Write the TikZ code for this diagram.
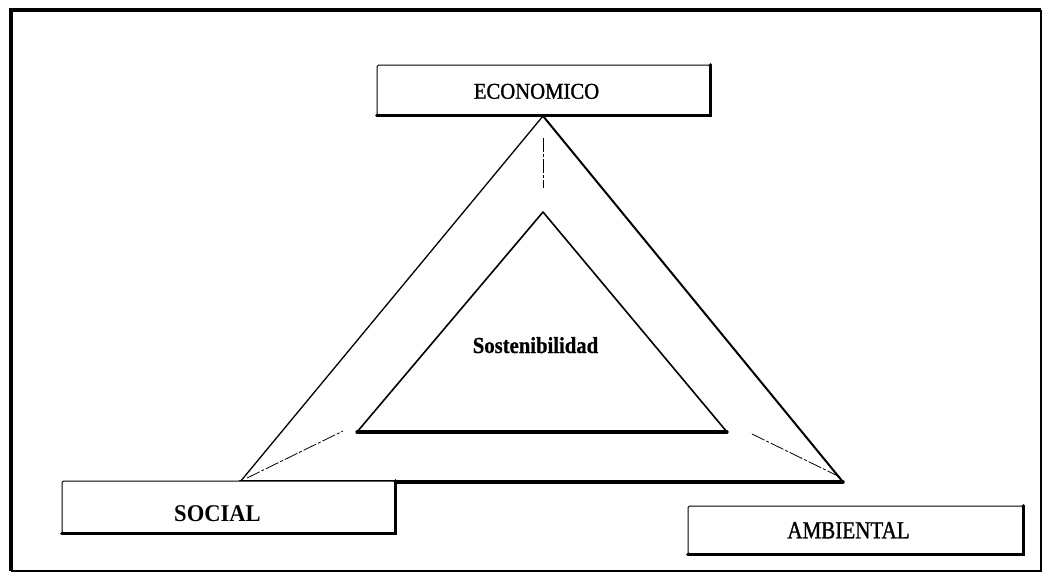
\documentclass[tikz,border=0pt]{standalone}
\usepackage{fontspec}
\setmainfont{Liberation Serif}
\newfontfamily\ecofont[FakeStretch=0.92,FakeBold=1.2]{Liberation Serif}
\newfontfamily\socfont[FakeStretch=0.94]{Liberation Serif Bold}
\newfontfamily\ambfont[FakeStretch=0.86,FakeBold=1.2]{Liberation Serif}
\newfontfamily\sosfont[FakeStretch=0.9,FakeBold=0.6]{Liberation Serif Bold}
\begin{document}
\begin{tikzpicture}[x=1pt,y=-1pt,
  labelbox/.style={draw=black, line width=1pt, fill=white, rounded corners=1.5pt,
    inner sep=0pt},
  boxtext/.style={anchor=base, inner sep=0pt},
  shadowedge/.style={line width=2.6pt, line cap=round},
  link/.style={line width=0.8pt, dash pattern=on 14pt off 2pt on 3pt off 2pt}]
\useasboundingbox (0,0) rectangle (1048,576);
% frame
\draw[line width=4pt] (11,571) -- (11,10) -- (1041,10);
\draw[line width=2.5pt] (1041,10) -- (1041,571) -- (11,571);
% vertices
\coordinate (oA) at (543,116);
\coordinate (oL) at (240,482);
\coordinate (oR) at (843,482);
\coordinate (iA) at (543,212);
\coordinate (iL) at (357,432);
\coordinate (iR) at (727,432);
% outer triangle
\draw[line width=1.3pt] (oA) -- (oL);
\draw[line width=2pt] (oA) -- (oR);
\draw[line width=3.5pt, line cap=round] (oL) -- (oR);
% inner triangle
\draw[line width=1.6pt, line join=round] (iL) -- (iA) -- (iR);
\draw[line width=3.2pt, line cap=round] (iL) -- (iR);
% links
\coordinate (lA) at (543,138);
\coordinate (lA2) at (543,188);
\coordinate (lL) at (247,478);
\coordinate (lL2) at (343,431);
\coordinate (lR) at (840,477);
\coordinate (lR2) at (750,433);
\draw[link] (lA) -- (lA2);
\draw[link] (lL) -- (lL2);
\draw[link] (lR) -- (lR2);
% boxes
\node[labelbox, minimum width=333pt, minimum height=50pt] (eco) at (543.5,90) {};
\draw[shadowedge] (eco.south west) -- (eco.south east) -- (eco.north east);
\node[boxtext, font=\ecofont\fontsize{22.5}{24}\selectfont] (ecoT) at (536.5,98.7) {ECONOMICO};
\node[labelbox, minimum width=333pt, minimum height=52pt] (soc) at (228.5,507) {};
\draw[shadowedge] (soc.south west) -- (soc.south east) -- (soc.north east);
\node[boxtext, font=\socfont\fontsize{24}{26}\selectfont] (socT) at (217.5,521.7) {SOCIAL};
\node[labelbox, minimum width=335pt, minimum height=48pt] (amb) at (855.5,530) {};
\draw[shadowedge] (amb.south west) -- (amb.south east) -- (amb.north east);
\node[boxtext, font=\ambfont\fontsize{24.5}{26}\selectfont] (ambT) at (848.5,538.3) {AMBIENTAL};
% center label
\node[boxtext, font=\sosfont\fontsize{23}{25}\selectfont] (sost) at (535.5,353) {Sostenibilidad};
\end{tikzpicture}
\end{document}
